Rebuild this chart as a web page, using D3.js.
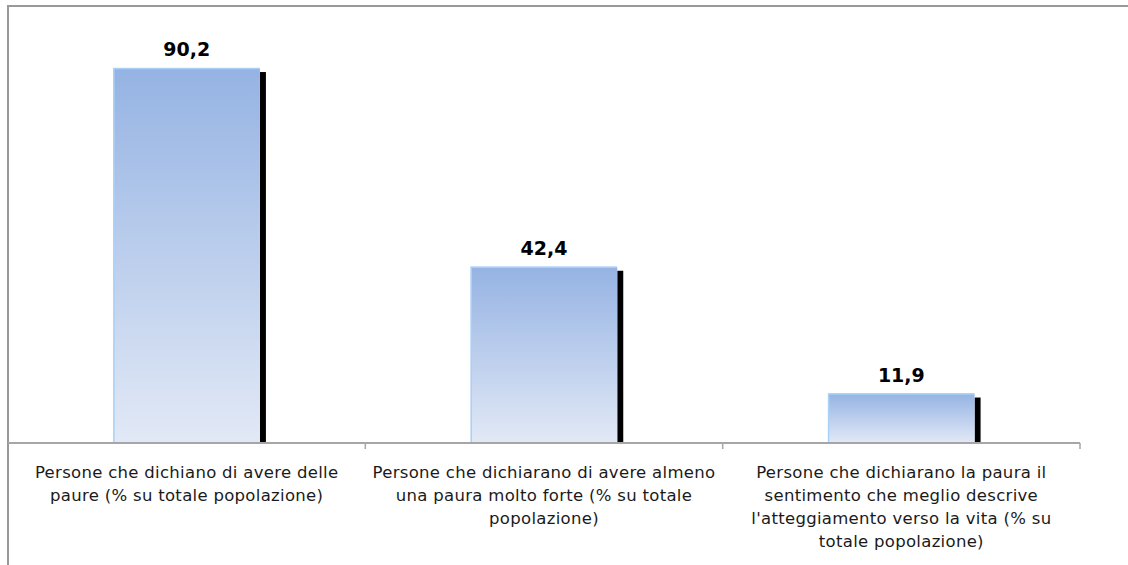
<!DOCTYPE html>
<html>
<head>
<meta charset="utf-8">
<script src="https://cdn.jsdelivr.net/npm/d3@7"></script>
<style>
    body { margin: 0; background: #fff; }
    svg { display: block; font-family: "DejaVu Sans", Verdana, sans-serif; }
</style>
</head>
<body>
<svg width="1128" height="565"></svg>
<script>
// categories (line breaks as in the original labels)
const categories = [
    "Persone che dichiano di avere delle\npaure (% su totale popolazione)",
    "Persone che dichiarano di avere almeno\nuna paura molto forte (% su totale\npopolazione)",
    "Persone che dichiarano la paura il\nsentimento che meglio descrive\nl'atteggiamento verso la vita (% su\ntotale popolazione)",
];
const values = [90.2, 42.4, 11.9];
const valueLabels = ["90,2", "42,4", "11,9"];

const svg = d3.select("svg");

const left = 8;
const right = 1080;
const baseY = 443;

const xScale = d3.scaleBand().domain(categories).range([left, right]).padding(0);
const yScale = d3.scaleLinear().domain([0, 100]).range([baseY, 27.3]);
const barW = xScale.bandwidth() * 0.41;

// gradient for bars
const defs = svg.append("defs");
const grad = defs.append("linearGradient")
    .attr("id", "barGrad")
    .attr("x1", 0).attr("y1", 0).attr("x2", 0).attr("y2", 1);
grad.append("stop").attr("offset", "0%").attr("stop-color", "#95b3e3");
grad.append("stop").attr("offset", "100%").attr("stop-color", "#e2e9f6");

// outer frame (left and top)
svg.append("path")
    .attr("d", `M${left},565 V6 H1128`)
    .attr("fill", "none")
    .attr("stroke", "#999")
    .attr("stroke-width", 2);

const bars = svg.selectAll(".bar")
    .data(values)
    .enter()
    .append("g")
    .classed("bar", true);

// black shadow on the right side
bars.append("rect")
    .attr("x", (d, i) => xScale(categories[i]) + (xScale.bandwidth() + barW) / 2)
    .attr("y", (d) => yScale(d) + 4)
    .attr("width", 6)
    .attr("height", (d) => baseY - yScale(d) - 4)
    .attr("fill", "#000");

bars.append("rect")
    .attr("x", (d, i) => xScale(categories[i]) + (xScale.bandwidth() - barW) / 2)
    .attr("y", (d) => yScale(d))
    .attr("width", barW)
    .attr("height", (d) => baseY - yScale(d))
    .attr("fill", "url(#barGrad)");

// light blue edge on the top and left
bars.append("path")
    .attr("d", (d, i) => {
        const x0 = xScale(categories[i]) + (xScale.bandwidth() - barW) / 2 + 0.5;
        const y0 = yScale(d) + 0.5;
        return `M${x0},${baseY} V${y0} H${x0 + barW - 1}`;
    })
    .attr("fill", "none")
    .attr("stroke", "#a9d1f7")
    .attr("stroke-width", 1.5);

// value labels
bars.append("text")
    .attr("x", (d, i) => xScale(categories[i]) + xScale.bandwidth() / 2)
    .attr("y", (d) => yScale(d) - 12)
    .attr("text-anchor", "middle")
    .attr("font-weight", "bold")
    .attr("font-size", 19)
    .attr("fill", "#000")
    .text((d, i) => valueLabels[i]);

// category axis
const axis = svg.append("g").attr("transform", `translate(0,${baseY})`);
axis.append("line")
    .attr("x1", left).attr("x2", right)
    .attr("stroke", "#a6a6a6").attr("stroke-width", 2);
axis.selectAll(".tick")
    .data(categories.map((c) => xScale(c) + xScale.bandwidth()))
    .enter()
    .append("line")
    .attr("x1", (d) => d).attr("x2", (d) => d)
    .attr("y1", 0).attr("y2", 6)
    .attr("stroke", "#a6a6a6").attr("stroke-width", 1.5);

const labels = svg.selectAll(".cat")
    .data(categories)
    .enter()
    .append("text")
    .classed("cat", true)
    .attr("text-anchor", "middle")
    .attr("font-size", 16.5)
    .attr("letter-spacing", 0.3)
    .attr("fill", "#1a1a1a");

labels.selectAll("tspan")
    .data((d) => d.split("\n").map((line) => ({ line, c: d })))
    .enter()
    .append("tspan")
    .attr("x", (d) => xScale(d.c) + xScale.bandwidth() / 2)
    .attr("y", (d, i) => 478 + i * 23)
    .text((d) => d.line);
</script>
</body>
</html>
